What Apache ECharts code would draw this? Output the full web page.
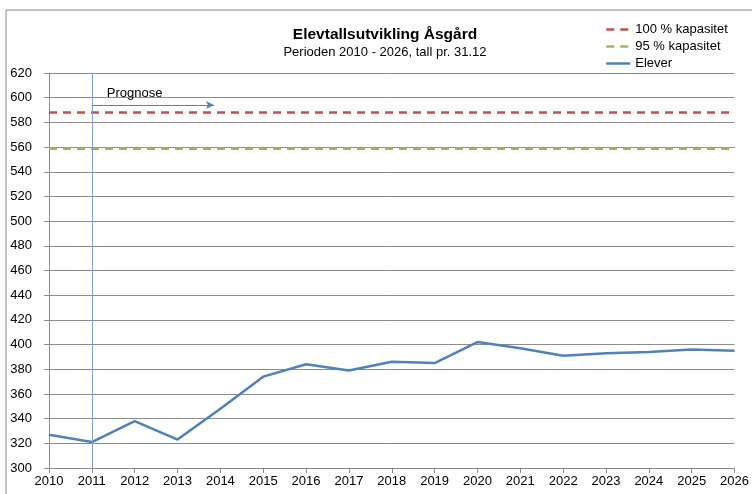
<!DOCTYPE html>
<html>
<head>
<meta charset="utf-8">
<script src="https://cdn.jsdelivr.net/npm/echarts@6/dist/echarts.min.js"></script>
<style>
  html, body { margin: 0; padding: 0; background: #fff; }
  #chart { width: 752px; height: 494px; }
</style>
</head>
<body>
<div id="chart"></div>
<script>
// values
const years = [2010, 2011, 2012, 2013, 2014, 2015, 2016, 2017, 2018, 2019, 2020, 2021, 2022, 2023, 2024, 2025, 2026]
const elever = [327, 321, 338, 323, 348, 374, 384, 379, 386, 385, 402, 397, 391, 393, 394, 396, 395]
const capacity100 = 588
const capacity95 = 558.6
const prognoseStart = 2011
const prognoseArrowEnd = 2013.85
const prognoseArrowY = 594

const FONT = "'Liberation Sans', Arial, sans-serif"
const colors = {
  cap100: '#C0504D',
  cap95: '#9BBB59',
  elever: '#4F81BD',
  grid: '#8c8c8c'
}
const dash = [8, 6]

const chart = echarts.init(document.getElementById('chart'))

const option = {
  animation: false,
  textStyle: { fontFamily: FONT },
  title: {
    text: 'Elevtallsutvikling Åsgård',
    subtext: 'Perioden 2010 - 2026, tall pr. 31.12',
    left: 380,
    top: 22,
    textAlign: 'center',
    itemGap: 3,
    textStyle: { fontSize: 15.5, fontWeight: 'bold', color: '#000', fontFamily: FONT },
    subtextStyle: { fontSize: 13, color: '#000', fontFamily: FONT }
  },
  legend: {
    orient: 'vertical',
    left: 600,
    top: 18,
    itemWidth: 24,
    itemHeight: 12,
    itemGap: 4,
    itemStyle: { opacity: 0 },
    textStyle: { fontSize: 13, color: '#000', fontFamily: FONT },
    data: [
      { name: '100 % kapasitet', lineStyle: { type: dash, width: 2.5 } },
      { name: '95 % kapasitet', lineStyle: { type: dash, width: 2.5 } },
      { name: 'Elever', lineStyle: { type: 'solid', width: 2.5 } }
    ]
  },
  graphic: [{
    type: 'rect',
    shape: { x: 6, y: 10, width: 800, height: 600 },
    style: { fill: 'none', stroke: '#8c8c8c', lineWidth: 1 },
    silent: true
  }],
  grid: { left: 49, right: 15, top: 73, bottom: 26 },
  xAxis: {
    type: 'value',
    min: 2010,
    max: 2026,
    interval: 1,
    axisLine: { lineStyle: { color: colors.grid } },
    axisTick: { show: true, length: 5, lineStyle: { color: colors.grid } },
    axisLabel: { color: '#000', fontSize: 13, margin: 7, formatter: v => String(v) },
    splitLine: { show: false }
  },
  yAxis: {
    type: 'value',
    min: 300,
    max: 620,
    interval: 20,
    axisLine: { show: true, lineStyle: { color: colors.grid } },
    axisTick: { show: true, length: 5, lineStyle: { color: colors.grid } },
    axisLabel: { color: '#000', fontSize: 13, margin: 17 },
    splitLine: { lineStyle: { color: colors.grid, width: 1 } }
  },
  series: [
    {
      name: '100 % kapasitet',
      type: 'line',
      symbol: 'none',
      color: colors.cap100,
      lineStyle: { color: colors.cap100, width: 2.5, type: dash },
      data: [[years[0], capacity100], [years[years.length - 1], capacity100]]
    },
    {
      name: '95 % kapasitet',
      type: 'line',
      symbol: 'none',
      color: colors.cap95,
      lineStyle: { color: colors.cap95, width: 2.5, type: dash },
      data: [[years[0], capacity95], [years[years.length - 1], capacity95]]
    },
    {
      name: 'Elever',
      type: 'line',
      symbol: 'none',
      color: colors.elever,
      lineStyle: { color: colors.elever, width: 2.5 },
      data: years.map((y, i) => [y, elever[i]]),
      markLine: {
        silent: true,
        animation: false,
        symbol: ['none', 'none'],
        data: [
          {
            xAxis: prognoseStart,
            lineStyle: { color: '#7f9fcf', width: 1, type: 'solid' },
            label: { show: false }
          },
          [
            {
              coord: [prognoseStart, prognoseArrowY],
              symbol: 'none',
              lineStyle: { color: '#4F81BD', width: 1, type: 'solid' },
              label: {
                show: true,
                position: 'insideStartTop',
                formatter: 'Prognose',
                color: '#000',
                fontSize: 13,
                fontFamily: FONT,
                distance: [15, 5]
              }
            },
            { coord: [prognoseArrowEnd, prognoseArrowY], symbol: 'arrow', symbolSize: [6, 8] }
          ]
        ]
      }
    }
  ]
}

chart.setOption(option)
</script>
</body>
</html>
